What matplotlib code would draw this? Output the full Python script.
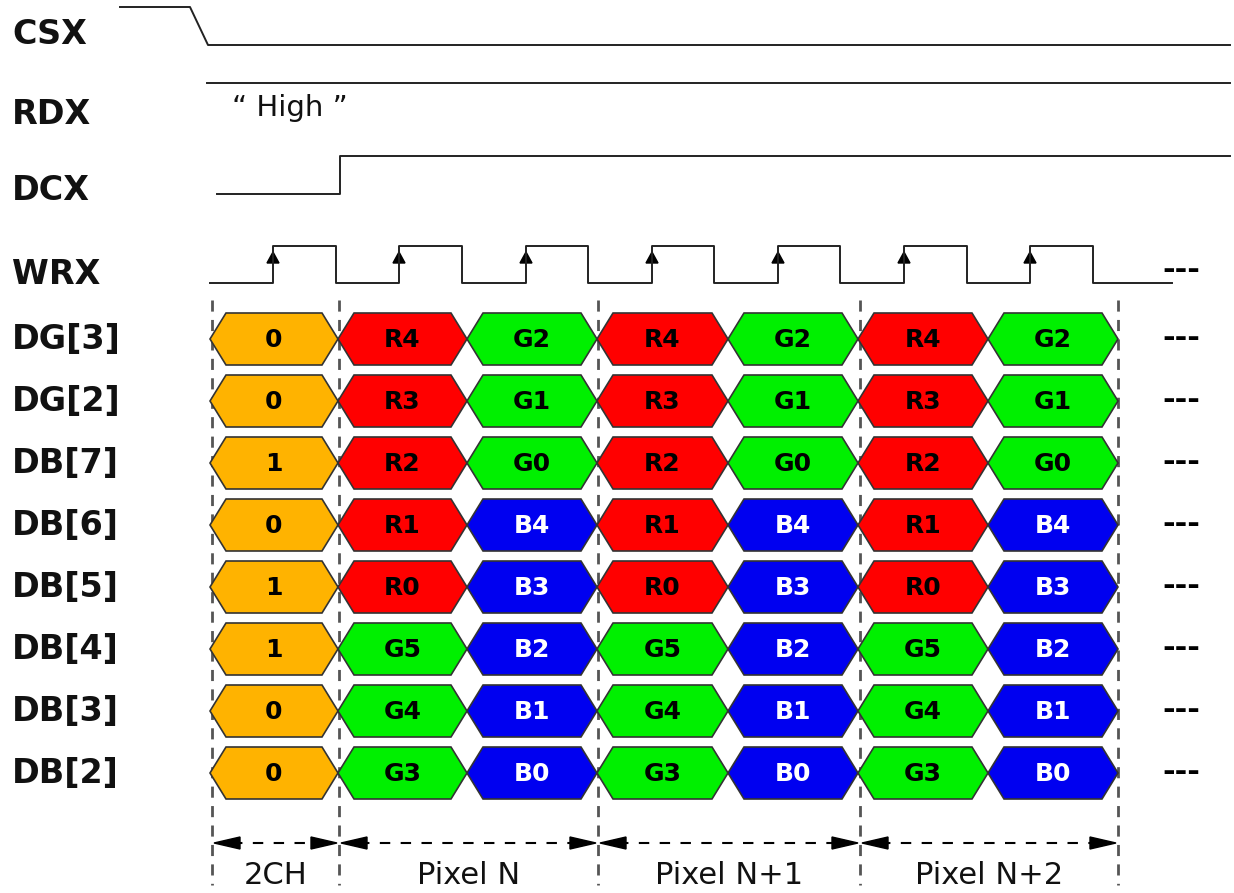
import matplotlib
matplotlib.use('Agg')
import matplotlib.pyplot as plt
from matplotlib.patches import Polygon

# signal names on the left
signal_labels = ['CSX', 'RDX', 'DCX', 'WRX']
signal_label_y = [35, 115, 190, 275]

# data lines, top to bottom
data_rows = ['DG[3]', 'DG[2]', 'DB[7]', 'DB[6]', 'DB[5]', 'DB[4]', 'DB[3]', 'DB[2]']
row_y = [339, 401, 463, 525, 587, 649, 711, 773]

# command byte 2CH, then the two bytes of each pixel
cmd_bits = ['0', '0', '1', '0', '1', '1', '0', '0']
pixel_byte1 = ['R4', 'R3', 'R2', 'R1', 'R0', 'G5', 'G4', 'G3']
pixel_byte2 = ['G2', 'G1', 'G0', 'B4', 'B3', 'B2', 'B1', 'B0']
n_pixels = 3

# slot boundaries along x (one byte per WRX cycle)
slot_edges = [210, 338, 467, 597, 728, 858, 988, 1118]

# WRX edges
wrx_rise = [273, 399, 526, 652, 778, 904, 1030]
wrx_fall = [336, 462, 588, 714, 840, 967, 1093]

# section markers at the bottom
sections = ['2CH', 'Pixel N', 'Pixel N+1', 'Pixel N+2']
section_edges = [212, 339, 598, 860, 1118]

fill_colors = {'R': '#ff0000', 'G': '#00f000', 'B': '#0000f0', 'C': '#ffb300'}
text_colors = {'R': 'black', 'G': 'black', 'B': 'white', 'C': 'black'}

fig = plt.figure(figsize=(12.34, 8.93), dpi=100)
ax = fig.add_axes([0, 0, 1, 1])
ax.set_xlim(0, 1234)
ax.set_ylim(893, 0)
ax.axis('off')

lw = 1.4
lc = '#222222'

# labels
for name, y in zip(signal_labels + data_rows, signal_label_y + row_y):
    ax.text(12, y, name, fontsize=24, fontweight='heavy', family='DejaVu Sans',
            ha='left', va='center', color='#111111')

# CSX
ax.plot([120, 190, 208, 1230], [7, 7, 45, 45], color=lc, lw=lw)
# RDX
ax.plot([207, 1230], [83, 83], color=lc, lw=lw)
ax.text(232, 108, '\u201c High \u201d', fontsize=21, ha='left', va='center', color='#111111')
# DCX
ax.plot([217, 340, 340, 1230], [194, 194, 156, 156], color=lc, lw=lw)

# WRX
lo, hi = 283, 246
xs, ys = [210], [lo]
for r, f in zip(wrx_rise, wrx_fall):
    xs += [r, r, f, f]
    ys += [lo, hi, hi, lo]
xs.append(1172)
ys.append(lo)
ax.plot(xs, ys, color=lc, lw=lw)
for r in wrx_rise:
    ax.add_patch(Polygon([[r - 6, 263], [r + 6, 263], [r, 252]], closed=True,
                         facecolor='black', edgecolor='black'))

# trailing dots
for y in [270] + row_y:
    ax.text(1181, y, '---', fontsize=22, fontweight='heavy', ha='center', va='center')

# vertical dashed markers
for x in section_edges:
    ax.plot([x, x], [300, 885], color='#555555', lw=2, ls=(0, (4, 3)))


def hexagon(x0, x1, yc, label, key):
    h = 26
    p = 16
    pts = [[x0, yc], [x0 + p, yc - h], [x1 - p, yc - h], [x1, yc],
           [x1 - p, yc + h], [x0 + p, yc + h]]
    ax.add_patch(Polygon(pts, closed=True, facecolor=fill_colors[key],
                         edgecolor='#333333', lw=1.2, zorder=3))
    ax.text((x0 + x1) / 2, yc + 1, label, fontsize=18, fontweight='heavy',
            ha='center', va='center', color=text_colors[key], zorder=4)


for i, yc in enumerate(row_y):
    hexagon(slot_edges[0], slot_edges[1], yc, cmd_bits[i], 'C')
    for p in range(n_pixels):
        s = 1 + 2 * p
        hexagon(slot_edges[s], slot_edges[s + 1], yc, pixel_byte1[i], pixel_byte1[i][0])
        hexagon(slot_edges[s + 1], slot_edges[s + 2], yc, pixel_byte2[i], pixel_byte2[i][0])

# bottom span arrows
ay = 843
for name, x0, x1 in zip(sections, section_edges[:-1], section_edges[1:]):
    ax.plot([x0 + 20, x1 - 20], [ay, ay], color='black', lw=1.5, ls=(0, (5, 5)))
    ax.add_patch(Polygon([[x0 + 2, ay], [x0 + 28, ay - 6], [x0 + 28, ay + 6]],
                         closed=True, facecolor='black', edgecolor='black'))
    ax.add_patch(Polygon([[x1 - 2, ay], [x1 - 28, ay - 6], [x1 - 28, ay + 6]],
                         closed=True, facecolor='black', edgecolor='black'))
    ax.text((x0 + x1) / 2, 876, name, fontsize=22, ha='center', va='center',
            color='#111111')

fig.savefig('out.png', dpi=100, facecolor='white')
